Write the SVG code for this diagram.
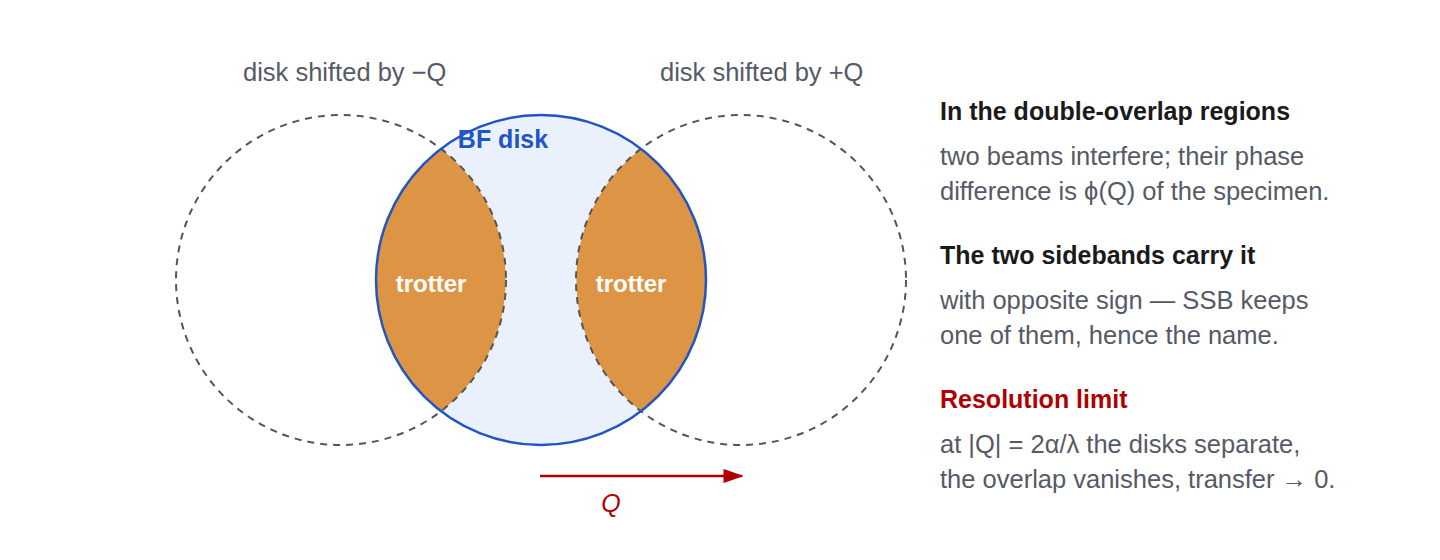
<svg xmlns="http://www.w3.org/2000/svg" width="1440" height="560" viewBox="0 0 1440 560">
<style>
text{font-family:"Liberation Sans",Arial,sans-serif}
.lbl{font-size:25.5px;fill:#555a66}
.h{font-size:25px;font-weight:bold;fill:#1a1a1a}
.b{font-size:25.5px;fill:#555a66}
.dash{fill:none;stroke:#555;stroke-width:2;stroke-dasharray:7 6}
.lens{fill:#dd9444}
.tr{font-size:24px;font-weight:bold;fill:#fff;text-anchor:middle}
</style>
<defs><marker id="ah" viewBox="0 0 14 10" refX="13" refY="5" markerWidth="8" markerHeight="5.7" orient="auto" markerUnits="strokeWidth"><path d="M0,0L14,5L0,10z" fill="#b00000"/></marker></defs>
<rect width="1440" height="560" fill="#fff"/>
<g id="bf-fill"><circle cx="541" cy="280" r="165" fill="#eaf1fc"/></g>
<g id="lens-left"><path class="lens" d="M441,149 A165,165 0 0 0 441,411 A165,165 0 0 0 441,149Z"/><text class="tr" x="431" y="292">trotter</text></g>
<g id="lens-right"><path class="lens" d="M641,149 A165,165 0 0 1 641,411 A165,165 0 0 1 641,149Z"/><text class="tr" x="631" y="292">trotter</text></g>
<g id="disk-minus"><circle class="dash" cx="341" cy="280" r="165"/><text class="lbl" x="243" y="81">disk shifted by −Q</text></g>
<g id="disk-plus"><circle class="dash" cx="741" cy="280" r="165"/><text class="lbl" x="660" y="81">disk shifted by +Q</text></g>
<g id="bf-disk"><circle cx="541" cy="280" r="165" fill="none" stroke="#2255c4" stroke-width="2.5"/><text x="503" y="148" text-anchor="middle" font-size="25" font-weight="bold" fill="#2255c4">BF disk</text></g>
<g id="connectors"><line x1="540" y1="476" x2="742" y2="476" stroke="#b00000" stroke-width="2.5" marker-end="url(#ah)"/></g>
<text x="611" y="512" text-anchor="middle" font-size="25" font-style="italic" fill="#b00000">Q</text>
<g id="notes">
<text class="h" x="940" y="120">In the double-overlap regions</text>
<text class="b" x="940" y="165">two beams interfere; their phase</text>
<text class="b" x="940" y="200">difference is ϕ(Q) of the specimen.</text>
<text class="h" x="940" y="264">The two sidebands carry it</text>
<text class="b" x="940" y="309">with opposite sign — SSB keeps</text>
<text class="b" x="940" y="344">one of them, hence the name.</text>
<text class="h" x="940" y="408" style="fill:#b00000">Resolution limit</text>
<text class="b" x="940" y="453">at |Q| = 2α/λ the disks separate,</text>
<text class="b" x="940" y="488">the overlap vanishes, transfer → 0.</text>
</g>
</svg>
